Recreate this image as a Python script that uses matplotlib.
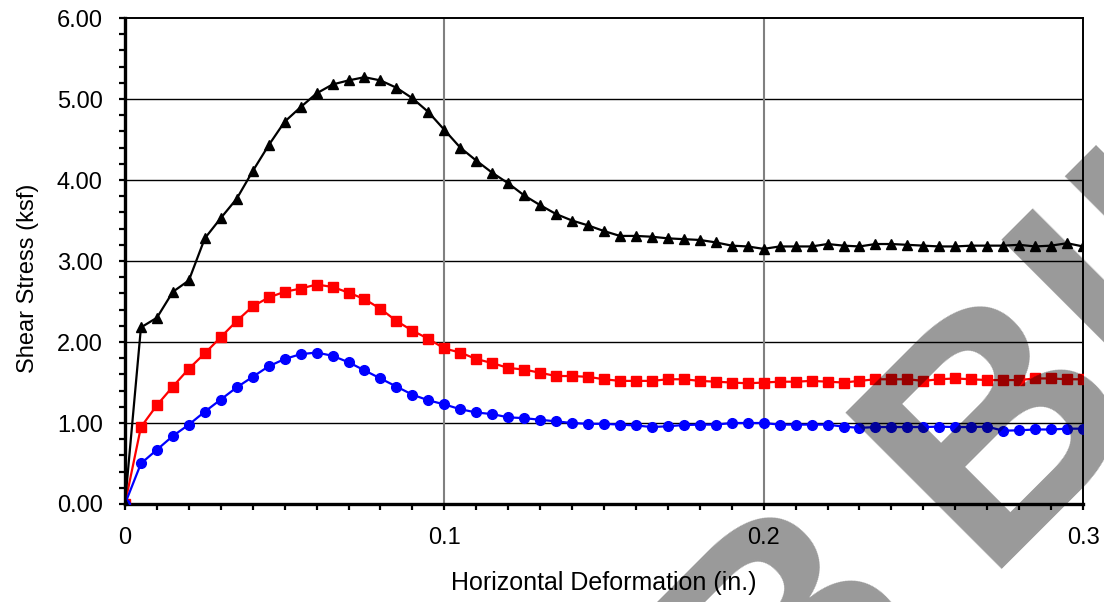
import matplotlib
matplotlib.use('Agg')
import matplotlib.pyplot as plt
from matplotlib.ticker import MultipleLocator, FixedLocator, FuncFormatter

plt.rcParams['font.family'] = ['Liberation Sans', 'DejaVu Sans']

# horizontal deformation readings (in.), every 0.005 in.
deform = [round(0.005 * i, 3) for i in range(61)]

# shear stress (ksf) for the three normal loads
stress_high = [0.00, 2.18, 2.30, 2.62, 2.76, 3.28, 3.53, 3.77, 4.11, 4.43,
               4.72, 4.90, 5.07, 5.18, 5.23, 5.27, 5.23, 5.14, 5.01, 4.84,
               4.62, 4.40, 4.24, 4.09, 3.96, 3.81, 3.69, 3.58, 3.50, 3.44,
               3.37, 3.31, 3.31, 3.30, 3.28, 3.27, 3.26, 3.23, 3.19, 3.18,
               3.15, 3.18, 3.18, 3.18, 3.21, 3.19, 3.18, 3.21, 3.21, 3.20,
               3.19, 3.18, 3.18, 3.19, 3.19, 3.19, 3.20, 3.18, 3.19, 3.22,
               3.18]
stress_mid = [0.00, 0.95, 1.22, 1.45, 1.67, 1.86, 2.06, 2.26, 2.44, 2.55,
              2.62, 2.66, 2.71, 2.68, 2.61, 2.53, 2.41, 2.26, 2.14, 2.04,
              1.92, 1.87, 1.79, 1.74, 1.68, 1.66, 1.62, 1.58, 1.58, 1.57,
              1.54, 1.52, 1.52, 1.52, 1.54, 1.54, 1.52, 1.51, 1.50, 1.49,
              1.50, 1.51, 1.51, 1.52, 1.51, 1.50, 1.52, 1.54, 1.54, 1.54,
              1.52, 1.54, 1.55, 1.54, 1.53, 1.53, 1.53, 1.55, 1.55, 1.54,
              1.54]
stress_low = [0.00, 0.50, 0.67, 0.84, 0.98, 1.14, 1.29, 1.44, 1.57, 1.70,
              1.79, 1.85, 1.87, 1.83, 1.75, 1.65, 1.55, 1.45, 1.35, 1.28,
              1.23, 1.17, 1.13, 1.11, 1.07, 1.06, 1.04, 1.02, 1.00, 0.99,
              0.99, 0.98, 0.97, 0.95, 0.96, 0.975, 0.98, 0.98, 1.00, 1.00,
              1.00, 0.98, 0.98, 0.98, 0.98, 0.955, 0.94, 0.95, 0.95, 0.95,
              0.95, 0.955, 0.95, 0.95, 0.955, 0.905, 0.91, 0.92, 0.92, 0.93,
              0.93]

x_labels = ['0', '0.1', '0.2', '0.3']

fig = plt.figure(figsize=(11.04, 6.02), dpi=100)
ax = fig.add_axes([0.1132, 0.1628, 0.8678, 0.8072])

ax.plot(deform, stress_high, color='black', lw=1.6, marker='^', ms=7, zorder=5)
ax.plot(deform, stress_mid, color='#ff0000', lw=1.6, marker='s', ms=6.5, zorder=4)
ax.plot(deform, stress_low, color='#0000ff', lw=1.6, marker='o', ms=7, zorder=4)

ax.set_xlim(0, 0.3)
ax.set_ylim(0, 6)

# gridlines: black horizontal, gray vertical
for yv in range(1, 6):
    ax.axhline(yv, color='black', lw=1.0, zorder=1)
for xv in (0.1, 0.2):
    ax.axvline(xv, color='#808080', lw=1.5, zorder=1)

ax.yaxis.set_major_locator(MultipleLocator(1))
ax.yaxis.set_minor_locator(MultipleLocator(0.2))
ax.yaxis.set_major_formatter(FuncFormatter(lambda v, p: '%.2f' % v))
ax.xaxis.set_major_locator(FixedLocator([0, 0.1, 0.2, 0.3]))
ax.xaxis.set_major_formatter(FuncFormatter(lambda v, p: x_labels[p]))
ax.xaxis.set_minor_locator(MultipleLocator(0.01))

ax.tick_params(which='both', direction='out', length=4.5, width=1.6,
               color='black', labelsize=17)
ax.tick_params(axis='y', pad=11.5)
ax.tick_params(axis='x', pad=12)

for side in ('left', 'bottom'):
    ax.spines[side].set_linewidth(2.4)
for side in ('top', 'right'):
    ax.spines[side].set_linewidth(1.4)

ax.set_xlabel('Horizontal Deformation (in.)', fontsize=18, labelpad=16)
ax.set_ylabel('Shear Stress (ksf)', fontsize=17)
ax.yaxis.set_label_coords(-0.0897, 0.465)

# semi-transparent stamp across the lower right
stamp = dict(fontsize=232, fontweight='bold', family='Liberation Sans',
             color='black', alpha=0.4, rotation=45, rotation_mode='anchor',
             ha='left', va='baseline')
fig.text(0.6977, -0.2952, 'B', **stamp)
fig.text(0.8883, 0.0543, 'Bll', **stamp)

fig.savefig('out.png', dpi=100)
